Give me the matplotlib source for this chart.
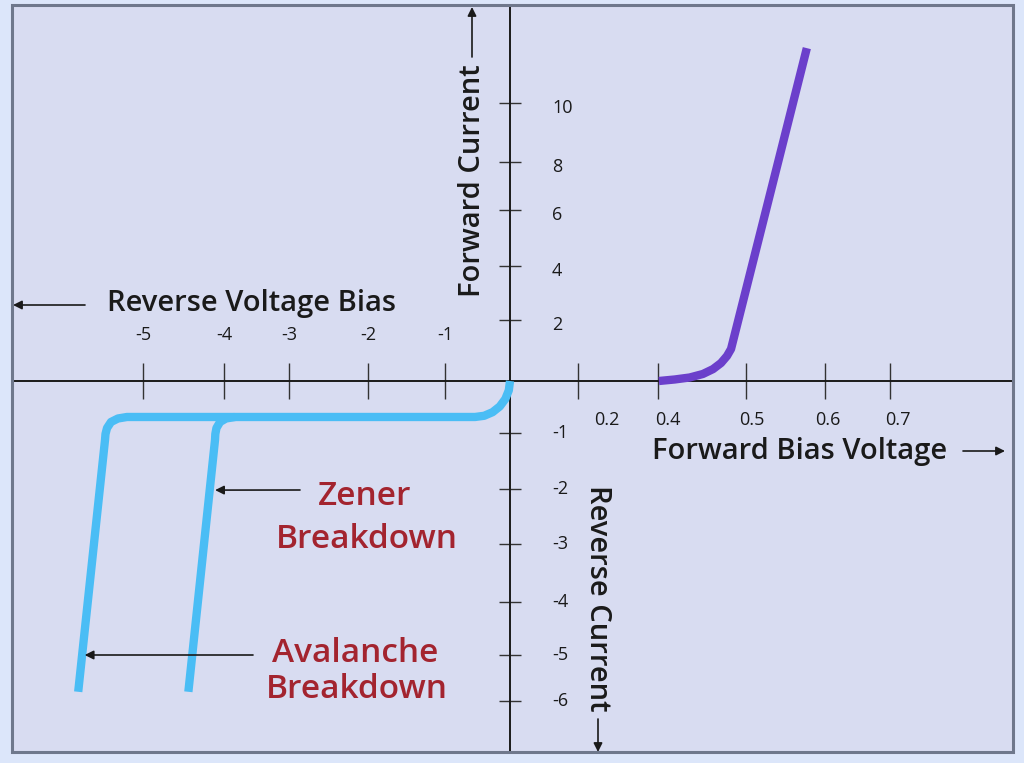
import numpy as np
import matplotlib
matplotlib.use("Agg")
import matplotlib.pyplot as plt
from matplotlib.patches import Rectangle

plt.rcParams['font.family'] = ['Open Sans', 'DejaVu Sans']

W, H = 1024, 763

# forward characteristic (volts, current)
fwd_v = [0.401, 0.419, 0.436, 0.451, 0.4625, 0.4716, 0.4784, 0.483, 0.577]
fwd_i = [0.0, 0.05, 0.115, 0.23, 0.39, 0.59, 0.82, 1.05, 11.86]

# reverse characteristic: leakage then avalanche breakdown
rev_v = [0.0, -0.018, -0.072, -0.158, -0.269, -0.398, -0.538,
         -5.198, -5.309, -5.395, -5.444, -5.463, -5.469, -5.80]
rev_i = [0.0, -0.179, -0.346, -0.490, -0.600, -0.669, -0.692,
         -0.692, -0.721, -0.788, -0.904, -1.018, -1.125, -5.80]

# zener branch
zen_v = [-3.831, -3.969, -4.049, -4.093, -4.107, -4.111, -4.44]
zen_i = [-0.692, -0.721, -0.788, -0.904, -1.018, -1.125, -5.80]

x_ticks_neg = [-5, -4, -3, -2, -1]
x_ticks_pos = [0.2, 0.4, 0.5, 0.6, 0.7]
y_ticks_pos = [2, 4, 6, 8, 10]
y_ticks_neg = [-1, -2, -3, -4, -5, -6]

# the drawing is hand made, axes are not linear -> piecewise scale (figure pixels)
sx_val = [-7, -5, -4, -3, -2, -1, 0, 0.2, 0.4, 0.5, 0.6, 0.7, 1.0]
sx_pix = [-19, 143, 224, 289, 368, 445, 510, 578, 658, 746, 825, 890, 1085]
sy_val = [-8, -6, -5, -4, -3, -2, -1, 0, 2, 4, 6, 8, 10, 14]
sy_pix = [H - p for p in [795, 701, 655, 602, 544, 489, 433, 381, 320, 266, 210, 162, 103, -15]]


def xf(v):
    return np.interp(v, sx_val, sx_pix)


def xi(p):
    return np.interp(p, sx_pix, sx_val)


def yf(v):
    return np.interp(v, sy_val, sy_pix)


def yi(p):
    return np.interp(p, sy_pix, sy_val)


bg_out = '#dce6fa'
bg_in = '#d8dcf1'
red = '#a3242f'
ink = '#1a1a1a'
blue = '#4abdf5'
purple = '#6b3fcb'

fig = plt.figure(figsize=(W / 100, H / 100), dpi=100, facecolor=bg_out)
ax = fig.add_axes([12 / W, 11 / H, 1001 / W, 747 / H])
ax.set_facecolor(bg_in)
ax.set_xscale('function', functions=(xf, xi))
ax.set_yscale('function', functions=(yf, yi))
ax.set_xlim(xi(12), xi(1013))
ax.set_ylim(yi(11), yi(758))

for s in ['top', 'right']:
    ax.spines[s].set_visible(False)
for s in ['left', 'bottom']:
    ax.spines[s].set_position(('data', 0))
    ax.spines[s].set_linewidth(1.4)
    ax.spines[s].set_color(ink)
ax.add_patch(Rectangle((0, 0), 1, 1, transform=ax.transAxes, fill=False,
                       edgecolor='#6f788c', lw=2.2, clip_on=False, zorder=5))

ax.set_xticks(x_ticks_neg + x_ticks_pos)
ax.set_yticks(y_ticks_neg + y_ticks_pos)
ax.set_xticklabels([])
ax.set_yticklabels([])
ax.tick_params(axis='x', direction='inout', length=26, width=1, color='#333333')
ax.tick_params(axis='y', direction='inout', length=16, width=1, color='#333333')
ax.minorticks_off()

# curves
line_kw = dict(lw=6, solid_capstyle='butt', solid_joinstyle='round', zorder=3)
ax.plot(rev_v, rev_i, color=blue, **line_kw)
ax.plot(zen_v, zen_i, color=blue, **line_kw)
ax.plot(fwd_v, fwd_i, color=purple, **line_kw)

# tick labels, placed like in the drawing
tick_fs = 13
for v in x_ticks_neg:
    ax.annotate(str(v), (v, 0), xytext=(0, 46), textcoords='offset pixels',
                ha='center', va='center', fontsize=tick_fs, color=ink)
x_nudge = [29, 10, 6, 3, 8]
for v, dx in zip(x_ticks_pos, x_nudge):
    ax.annotate(str(v), (v, 0), xytext=(dx, -39), textcoords='offset pixels',
                ha='center', va='center', fontsize=tick_fs, color=ink)
for v in y_ticks_pos:
    ax.annotate(str(v), (0, v), xytext=(42, -5), textcoords='offset pixels',
                ha='left', va='center', fontsize=tick_fs, color=ink)
for v in y_ticks_neg:
    ax.annotate(str(v), (0, v), xytext=(42, 0), textcoords='offset pixels',
                ha='left', va='center', fontsize=tick_fs, color=ink)


def fp(x, y):
    return (x, H - y)


arr = dict(arrowstyle='-|>', color=ink, lw=1.2, mutation_scale=13, shrinkA=0, shrinkB=0)
lab_kw = dict(fontsize=21, color=ink, fontweight='semibold')

# axis titles with arrows
fig.text(107 / W, 1 - 304 / H, 'Reverse Voltage Bias', ha='left', va='center', **lab_kw)
ax.annotate('', xy=fp(13, 305), xycoords='figure pixels', xytext=fp(85, 305),
            textcoords='figure pixels', arrowprops=arr)
fig.text(652 / W, 1 - 451 / H, 'Forward Bias Voltage', ha='left', va='center', **lab_kw)
ax.annotate('', xy=fp(1005, 451), xycoords='figure pixels', xytext=fp(963, 451),
            textcoords='figure pixels', arrowprops=arr)
fig.text(472 / W, 1 - 181 / H, 'Forward Current', ha='center', va='center',
         rotation=90, **lab_kw)
ax.annotate('', xy=fp(472, 7), xycoords='figure pixels', xytext=fp(472, 57),
            textcoords='figure pixels', arrowprops=arr)
fig.text(598 / W, 1 - 598 / H, 'Reverse Current', ha='center', va='center',
         rotation=-90, **lab_kw)
ax.annotate('', xy=fp(598, 752), xycoords='figure pixels', xytext=fp(598, 719),
            textcoords='figure pixels', arrowprops=arr)

# breakdown callouts
red_kw = dict(ha='center', va='baseline', fontsize=24, color=red, fontweight='semibold')
fig.text(365 / W, 1 - 505 / H, 'Zener', **red_kw)
fig.text(367 / W, 1 - 548 / H, 'Breakdown', **red_kw)
fig.text(355 / W, 1 - 662 / H, 'Avalanche', **red_kw)
fig.text(357 / W, 1 - 698 / H, 'Breakdown', **red_kw)
ax.annotate('', xy=(-4.11, -2.02), xytext=fp(300, 490), textcoords='figure pixels',
            arrowprops=arr)
ax.annotate('', xy=(-5.72, -5.0), xytext=fp(253, 655), textcoords='figure pixels',
            arrowprops=arr)

fig.savefig('out.png', dpi=100, facecolor=bg_out)
